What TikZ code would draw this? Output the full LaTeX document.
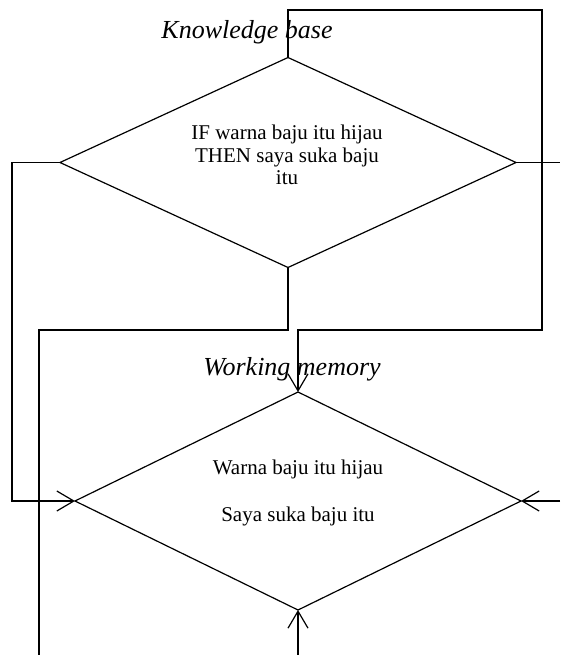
\documentclass[tikz,border=0pt]{standalone}
\usepackage{fontspec}
\setmainfont{Liberation Serif}
\usepackage{tikz}
\usetikzlibrary{shapes.geometric,arrows.meta}

\begin{document}
\begin{tikzpicture}[x=1pt,y=-1pt,line width=1.2pt,
	base/.style={diamond,draw,inner sep=0pt,outer sep=0pt},
	rule/.style={align=center,inner sep=0pt,font=\fontsize{21}{22.7}\selectfont},
	title/.style={anchor=base,inner sep=0pt,font=\fontsize{26}{28}\selectfont\itshape},
	>={Straight Barb[length=17pt,width=20pt]}]
	\useasboundingbox (0,0) rectangle (560,655);
	
	\node[base,minimum width=456pt,minimum height=210pt] (kb) at (288,162.5) {};
	\node[base,minimum width=446pt,minimum height=218pt] (wm) at (298,501) {};
	\node[title] (kblabel) at (247,39) {Knowledge base};
	\node[title] (wmlabel) at (292,375) {Working memory};
	\node[rule] (kbtext) at (287,155) {IF warna baju itu hijau\\THEN saya suka baju\\itu};
	\node[rule] (wmtext) at (298,493) {Warna baju itu hijau\\[24pt]Saya suka baju itu};
	\coordinate (redge) at (560,0);
	\coordinate (bedge) at (0,655);
	
	\draw[->] (kb.north) |- (542,10) -- (542,330) -| (wm.north);
	\draw[->] (kb.west) -- ++(-48,0) |- (wm.west);
	\draw (kb.east) -- (kb.east -| redge);
	\draw[->] (wm.east -| redge) -- (wm.east);
	\draw (kb.south) |- (39,330) -- (39,655);
	\draw[->] (wm.south |- bedge) -- (wm.south);
\end{tikzpicture}
\end{document}
